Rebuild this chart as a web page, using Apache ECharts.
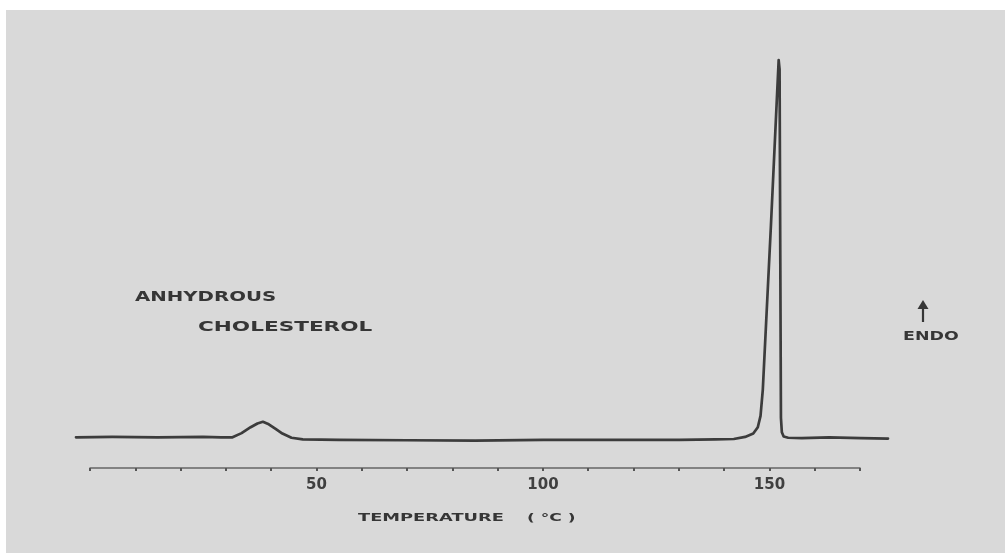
<!DOCTYPE html>
<html>
<head>
<meta charset="utf-8">
<script src="https://cdn.jsdelivr.net/npm/echarts@6/dist/echarts.min.js"></script>
<style>
  html, body { margin: 0; padding: 0; background: #ffffff; }
  #wrap { position: relative; width: 1005px; height: 553px; overflow: hidden; }
  #paper { position: absolute; left: 6px; top: 10px; right: 0; bottom: 0; background: #d9d9d9; }
  #chart { position: absolute; left: 0; top: 0; width: 1005px; height: 553px; }
</style>
</head>
<body>
<div id="wrap">
  <div id="paper"></div>
  <div id="chart"></div>
</div>
<script>
// DSC trace of anhydrous cholesterol: temperature (°C) vs. endothermic heat flow (arbitrary units)
const temperature = [
  -3, 5, 15, 25, 29, 31.5, 33.5, 35.5, 37, 38.2, 39.5, 41, 42.5, 44.5, 47, 55,
  70, 85, 100, 115, 130, 138, 142, 144.5, 146.3, 147.3, 147.9, 148.4, 150.2,
  151.9, 152.1, 152.25, 152.4, 152.6, 153.0, 154, 157, 163, 170, 176
];
const heatFlow = [
  5.4, 5.5, 5.4, 5.5, 5.4, 5.4, 6.4, 7.8, 8.7, 9.1, 8.5, 7.4, 6.3, 5.3, 4.9, 4.8,
  4.7, 4.6, 4.8, 4.8, 4.8, 4.9, 5.0, 5.5, 6.3, 7.8, 10.5, 16.7, 56,
  95.2, 93, 50, 10, 6.6, 5.6, 5.3, 5.2, 5.4, 5.2, 5.1
];
const tickLabels = { 50: '50', 100: '100', 150: '150' };

const trace = temperature.map((t, i) => [t, heatFlow[i]]);

const chart = echarts.init(document.getElementById('chart'), null, { renderer: 'canvas' });

const lettering = {
  fontFamily: 'DejaVu Sans',
  fontWeight: 'bold',
  fill: '#363636',
  verticalAlign: 'middle'
};
const label = (text, x, y, size, stretch) => ({
  type: 'text', x: x, y: y, scaleX: stretch,
  style: Object.assign({ text: text, fontSize: size }, lettering)
});

chart.setOption({
  backgroundColor: 'transparent',
  animation: false,
  grid: [
    { left: 76, right: 117, top: 40, bottom: 93 },
    { left: 90, right: 145, top: 460, bottom: 85 }
  ],
  xAxis: [
    {
      gridIndex: 0, type: 'value', min: -3, max: 176,
      show: false
    },
    {
      gridIndex: 1, type: 'value', min: 0, max: 170, interval: 10,
      position: 'bottom',
      axisLine: { show: true, lineStyle: { color: '#666666', width: 1.5 } },
      axisTick: { show: true, length: 3, lineStyle: { color: '#555555', width: 2 } },
      splitLine: { show: false },
      axisLabel: {
        margin: 10,
        color: '#404040',
        fontFamily: 'DejaVu Sans',
        fontWeight: 'bold',
        fontSize: 15,
        formatter: v => tickLabels[v] || ''
      }
    }
  ],
  yAxis: [
    { gridIndex: 0, type: 'value', min: 0, max: 100, show: false },
    { gridIndex: 1, type: 'value', min: 0, max: 1, show: false }
  ],
  series: [
    {
      type: 'line',
      xAxisIndex: 0, yAxisIndex: 0,
      data: trace,
      showSymbol: false,
      smooth: false,
      lineStyle: { color: '#3c3c3c', width: 2.7, join: 'round', cap: 'round' }
    }
  ],
  graphic: [
    label('ANHYDROUS', 135, 297, 14, 1.41),
    label('CHOLESTEROL', 198, 327, 14, 1.54),
    label('ENDO', 903, 337, 12, 1.45),
    {
      type: 'line', shape: { x1: 923, y1: 306, x2: 923, y2: 322 },
      style: { stroke: '#363636', lineWidth: 2.2 }
    },
    {
      type: 'polygon', shape: { points: [[917.5, 309], [928.5, 309], [923, 300]] },
      style: { fill: '#363636' }
    },
    label('TEMPERATURE', 358, 518, 11, 1.62),
    label('( °C )', 527, 518, 11, 1.55)
  ]
});
</script>
</body>
</html>
